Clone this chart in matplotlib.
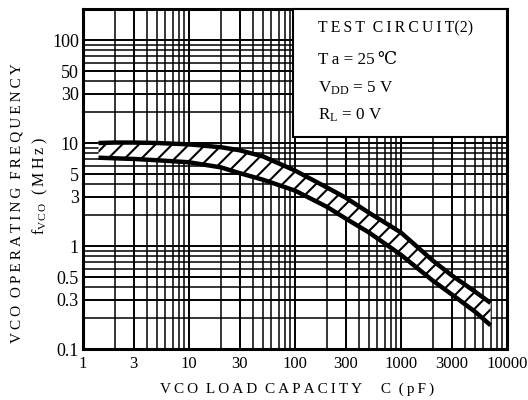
import matplotlib
matplotlib.use("Agg")
import matplotlib.pyplot as plt
from matplotlib.patches import Rectangle
from matplotlib.ticker import FixedLocator, LogLocator, NullFormatter

plt.rcParams['font.family'] = ['Liberation Serif', 'DejaVu Serif']
plt.rcParams['mathtext.fontset'] = 'custom'
plt.rcParams['mathtext.rm'] = 'Liberation Serif'
plt.rcParams['mathtext.it'] = 'Liberation Serif:italic'
plt.rcParams['hatch.linewidth'] = 1.5

# Data
cap_pf = [1.4, 2, 3, 5, 10, 20, 30, 50, 100, 200, 300, 500, 1000, 2000, 3000, 5000, 7000]
f_upper = [10.0, 10.1, 10.1, 10.0, 9.7, 9.1, 8.5, 7.4, 5.4, 3.7, 2.95, 2.1, 1.35, 0.72, 0.52, 0.36, 0.28]
f_lower = [7.2, 7.1, 7.0, 6.8, 6.5, 5.8, 5.1, 4.4, 3.45, 2.4, 1.85, 1.35, 0.82, 0.46, 0.34, 0.23, 0.17]

x_ticks = [1, 3, 10, 30, 100, 300, 1000, 3000, 10000]
x_ticklabels = ['1', '3', '10', '30', '100', '300', '1000', '3000', '10000']
y_ticks = [0.1, 0.3, 0.5, 1, 3, 5, 10, 30, 50, 100]
y_ticklabels = ['0.1', '0.3', '0.5', '1', '3', '5', '10', '30', '50', '100']

TS = '\u2009'


def spaced(s):
    """Insert thin spaces between letters to imitate wide letter spacing."""
    return TS.join(s)


fig = plt.figure(figsize=(5.28, 4.0), dpi=100)
ax = fig.add_axes([83/528, 1-349/400, (507-83)/528, (349-9)/400])
ax.set_xscale('log')
ax.set_yscale('log')
ax.set_xlim(1, 10000)
ax.set_ylim(0.1, 200)

ax.xaxis.set_major_locator(FixedLocator(x_ticks))
ax.set_xticklabels(x_ticklabels)
ax.yaxis.set_major_locator(FixedLocator(y_ticks))
ax.set_yticklabels(y_ticklabels)
ax.xaxis.set_minor_locator(LogLocator(base=10, subs=range(1, 10), numticks=20))
ax.yaxis.set_minor_locator(LogLocator(base=10, subs=range(1, 10), numticks=20))
ax.xaxis.set_minor_formatter(NullFormatter())
ax.yaxis.set_minor_formatter(NullFormatter())
ax.tick_params(which='both', length=0)
ax.tick_params(axis='x', labelsize=12, pad=5)
ax.tick_params(axis='y', labelsize=13, pad=3)

ax.grid(True, which='minor', color='black', linewidth=1.1)
ax.grid(True, which='major', color='black', linewidth=1.4)
ax.set_axisbelow(True)
for s in ax.spines.values():
    s.set_linewidth(2.2)

ax.fill_between(cap_pf, f_lower, f_upper, facecolor='white', edgecolor='black',
                hatch='//', linewidth=0, zorder=3)
ax.plot(cap_pf, f_upper, color='black', linewidth=3.2, zorder=4, solid_capstyle='butt')
ax.plot(cap_pf, f_lower, color='black', linewidth=3.2, zorder=4, solid_capstyle='butt')

# Condition box
bx0 = (293-83)/424
by0 = 1-(137-9)/340
ax.add_patch(Rectangle((bx0, by0), 1-bx0, 1-by0, transform=ax.transAxes,
                       facecolor='white', edgecolor='black', linewidth=1.5, zorder=5,
                       clip_on=False))
tx = (318-83)/424
fs = 12.3
ax.text(tx, 1-(28-9)/340, spaced('TEST') + '  ' + spaced('CIRCUIT') + '(2)',
        transform=ax.transAxes, fontsize=11.3, zorder=6, va='center')
ax.text(tx, 1-(60-9)/340, 'T' + TS + 'a = 25' + TS + '\u2103', transform=ax.transAxes,
        fontsize=fs, zorder=6, va='center')
ax.text(tx, 1-(88-9)/340, r'V$_{\mathrm{DD}}$ = 5 V', transform=ax.transAxes,
        fontsize=fs, zorder=6, va='center')
ax.text(tx, 1-(115-9)/340, r'R$_{\mathrm{L}}$ = 0 V', transform=ax.transAxes,
        fontsize=fs, zorder=6, va='center')

fig.text(17/528, 1-203/400, spaced('VCO') + '  ' + spaced('OPERATING') + '  ' + spaced('FREQUENCY'),
         rotation=90, fontsize=11, ha='center', va='center')
fig.text(40/528, 1-186/400, r'f$_{\mathrm{V\,C\,O}}$' + '  ' + spaced('(MHz)'), rotation=90,
         fontsize=11.5, ha='center', va='center')
fig.text(297/528, 1-389/400, spaced('VCO') + '  ' + spaced('LOAD') + '  ' + spaced('CAPACITY')
         + '     C  ' + spaced('(pF)'), fontsize=11, ha='center', va='center')

fig.savefig('out.png', dpi=100)
